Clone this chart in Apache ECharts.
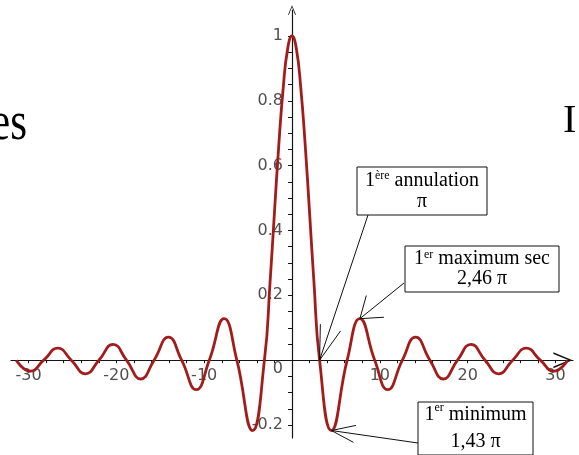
<!DOCTYPE html>
<html>
<head>
<meta charset="utf-8">
<script src="https://cdn.jsdelivr.net/npm/echarts@6/dist/echarts.min.js"></script>
<style>
  html, body { margin: 0; padding: 0; background: #fff; }
  #c { width: 579px; height: 455px; }
</style>
</head>
<body>
<div id="c"></div>
<script>
// sin(x)/x : zeros and extrema of the curve, plus a few points on the main lobe
const xs = [-31.4, -29.81, -28.27, -26.67, -25.13, -23.52, -21.99, -20.37, -18.85, -17.22,
            -15.71, -14.07, -12.57, -10.9, -9.42, -7.73, -6.28, -4.49, -3.14, -2.5,
            -2, -1.5, -1, -0.5, 0, 0.5, 1, 1.5, 2, 2.5,
            3.14, 4.49, 6.28, 7.73, 9.42, 10.9, 12.57, 14.07, 15.71, 17.22,
            18.85, 20.37, 21.99, 23.52, 25.13, 26.67, 28.27, 29.81, 31.4];
const ys = [0, -0.034, 0, 0.037, 0, -0.042, 0, 0.049, 0, -0.058,
            0, 0.071, 0, -0.091, 0, 0.128, 0, -0.217, 0, 0.24,
            0.455, 0.665, 0.84, 0.96, 1, 0.96, 0.84, 0.665, 0.455, 0.24,
            0, -0.217, 0, 0.128, 0, -0.091, 0, 0.071, 0, -0.058,
            0, 0.049, 0, -0.042, 0, 0.037, 0, -0.034, 0];

const yTickLabels = [-0.2, 0, 0.2, 0.4, 0.6, 0.8, 1];
const xTickLabels = [-30, -20, -10, 10, 20, 30];

// annotated points (x positions on the curve)
const firstZeroX = 3.14;
const firstMinX = 4.49;
const firstSecMaxX = 7.73;

const W = 579, H = 455;
const grid = { left: 11, right: 6, top: 10, bottom: 17 };
const xMin = -32, xMax = 32, yMin = -0.24, yMax = 1.08;

// the axes cross at the origin: shift each axis from the grid edge onto zero
const gridW = W - grid.left - grid.right;
const gridH = H - grid.top - grid.bottom;
const yAxisOffset = -((0 - xMin) / (xMax - xMin)) * gridW;
const xAxisOffset = -((0 - yMin) / (yMax - yMin)) * gridH;

const chart = echarts.init(document.getElementById('c'), null, { renderer: 'canvas' });

const yTicks = [];
for (let i = -4; i <= 20; i++) yTicks.push(+(i * 0.05).toFixed(2));
const xTicks = [];
for (let v = -30; v <= 30; v += 2) xTicks.push(v);

const chevron = 'path://M0,12 L5,0 L10,12 L8.9,12 L5,2.4 L1.1,12 Z';
const axisColor = '#151515';
const labelStyle = { color: '#505050', fontSize: 16, fontFamily: 'DejaVu Sans' };

chart.setOption({
  animation: false,
  backgroundColor: '#fff',
  grid: Object.assign({ outerBoundsMode: 'none' }, grid),
  xAxis: {
    type: 'value', min: xMin, max: xMax, position: 'bottom', offset: xAxisOffset,
    axisLine: { onZero: false, lineStyle: { color: axisColor, width: 1.2 },
                symbol: ['none', chevron], symbolSize: [16, 22], symbolOffset: [0, -10] },
    axisTick: { customValues: xTicks, length: 3, lineStyle: { color: axisColor } },
    axisLabel: Object.assign({ customValues: xTickLabels, margin: 8 }, labelStyle),
    splitLine: { show: false }
  },
  yAxis: {
    type: 'value', min: yMin, max: yMax, position: 'left', offset: yAxisOffset,
    axisLine: { onZero: false, lineStyle: { color: axisColor, width: 1.2 },
                symbol: ['none', chevron], symbolSize: [8, 12] },
    axisTick: { customValues: yTicks, length: 4, lineStyle: { color: axisColor } },
    axisLabel: Object.assign({
      customValues: yTickLabels, margin: 9,
      formatter: v => (v === 0 ? '{z|0}' : String(v)),
      rich: { z: Object.assign({ padding: [18, 0, 0, 0] }, labelStyle) }
    }, labelStyle),
    splitLine: { show: false }
  },
  series: [{
    type: 'line',
    data: xs.map((x, i) => [x, ys[i]]),
    smooth: true,
    showSymbol: false,
    z: 5,
    lineStyle: { color: '#a21c1c', width: 2.8 }
  }]
});

function curvePoint(x) {
  const i = xs.indexOf(x);
  return chart.convertToPixel({ gridIndex: 0 }, [xs[i], ys[i]]);
}

function arrow(tip, tail, len, ang) {
  const a = Math.atan2(tail[1] - tip[1], tail[0] - tip[0]);
  const b1 = [tip[0] + len * Math.cos(a + ang), tip[1] + len * Math.sin(a + ang)];
  const b2 = [tip[0] + len * Math.cos(a - ang), tip[1] + len * Math.sin(a - ang)];
  const st = { stroke: '#111', lineWidth: 1, fill: null };
  return [
    { type: 'polyline', z: 20, shape: { points: [tail, tip] }, style: st },
    { type: 'polyline', z: 20, shape: { points: [b1, tip, b2] }, style: st }
  ];
}

const serif = 'Liberation Serif';
function richStyles(lh) {
  return {
    n: { fontFamily: serif, fontSize: 20, lineHeight: lh, color: '#111' },
    s: { fontFamily: serif, fontSize: 12, lineHeight: 14, verticalAlign: 'top', color: '#111' }
  };
}

function box(x, y, w, h, text, lh) {
  return [
    { type: 'rect', z: 21, shape: { x: x, y: y, width: w, height: h },
      style: { fill: '#fff', stroke: '#111', lineWidth: 1 } },
    { type: 'text', z: 22, x: x + w / 2, y: y + h / 2,
      style: { text: text, align: 'center', verticalAlign: 'middle', rich: richStyles(lh) } }
  ];
}

const tipZero = curvePoint(firstZeroX);
const tipMax = curvePoint(firstSecMaxX);
const tipMin = curvePoint(firstMinX);

const elements = [].concat(
  arrow(tipZero, [368, 215], 36, 0.3),
  arrow(tipMax, [404, 283], 24, 0.62),
  arrow(tipMin, [418, 443], 25, 0.35),
  box(357, 167, 130, 48, '{n|1}{s|ère}{n| annulation}\n{n|π}', 21),
  box(405, 246, 154, 46, '{n|1}{s|er}{n| maximum sec}\n{n|2,46 π}', 20),
  box(418, 402, 115, 53, '{n|1}{s|er}{n| minimum}\n{n|1,43 π}', 27),
  [
    { type: 'text', z: 1, x: -9, y: 98, scaleX: 0.8,
      style: { text: 'es', fontFamily: serif, fontSize: 54, fill: '#000', verticalAlign: 'top' } },
    { type: 'text', z: 1, x: 563, y: 101,
      style: { text: 'I', fontFamily: serif, fontSize: 40, fill: '#000', verticalAlign: 'top' } }
  ]
);

chart.setOption({ graphic: { elements: elements } });
</script>
</body>
</html>
